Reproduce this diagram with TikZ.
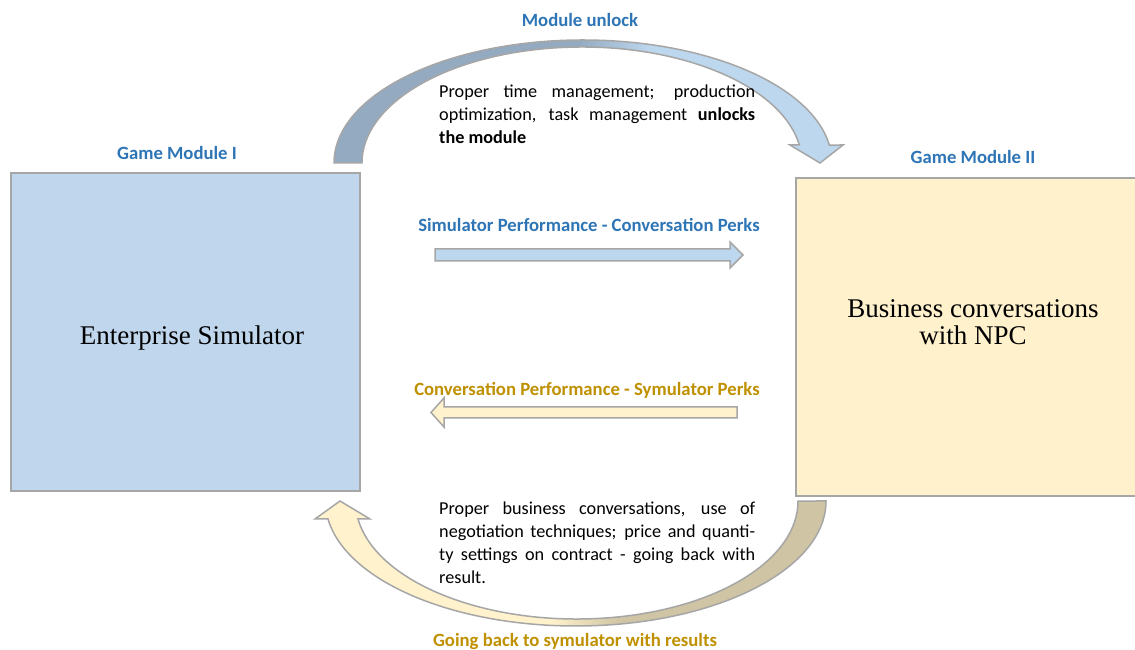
\documentclass[tikz,border=0pt]{standalone}
\usepackage{fontspec}
\setmainfont{Liberation Serif}
\newfontfamily\cali{Carlito}
\definecolor{boxblue}{HTML}{BFD6EC}
\definecolor{boxyel}{HTML}{FFF1CC}
\definecolor{edgegray}{HTML}{A6A6A6}
\definecolor{lblblue}{HTML}{2E75B6}
\definecolor{lblgold}{HTML}{BF9000}
\definecolor{topdk}{HTML}{94AAC0}
\definecolor{toplt}{HTML}{BDD7EE}
\definecolor{botdk}{HTML}{CFC4A3}
\definecolor{botlt}{HTML}{FFF2CC}
\pgfdeclarehorizontalshading{topsh}{100bp}{color(0bp)=(topdk); color(49bp)=(topdk); color(56bp)=(toplt); color(100bp)=(toplt)}
\pgfdeclarehorizontalshading{botsh}{100bp}{color(0bp)=(botlt); color(48bp)=(botlt); color(55bp)=(botdk); color(100bp)=(botdk)}
\begin{document}
\begin{tikzpicture}[x=1pt,y=1pt,
  modbox/.style={draw=edgegray, line width=2pt, inner sep=0pt},
  blockedge/.style={draw=edgegray, line width=1.5pt, line join=miter},
  lbl/.style={font=\cali\bfseries\fontsize{18.7}{22}\selectfont, inner sep=0pt},
  para/.style={font=\cali\fontsize{18.2}{22.8}\selectfont, inner sep=0pt, anchor=base west},
  boxtext/.style={font=\fontsize{27}{27}\selectfont, align=center, inner sep=0pt}]
\useasboundingbox (0,0) rectangle (1135,650);
\clip (0,0) rectangle (1135,650);
\fill[white] (0,0) rectangle (1135,650);

% module boxes
\node[modbox, fill=boxblue, minimum width=349pt, minimum height=318pt] (sim) at (185.5,318) {};
\node[boxtext] (simt) at (192,312) {Enterprise Simulator};
\node[modbox, fill=boxyel, minimum width=360pt, minimum height=318pt] (npc) at (976,313) {};
\node[boxtext] (npct) at (973,328) {Business conversations\\with NPC};

% top curved arrow
\path[blockedge, shading=topsh]
  (334,487) arc[start angle=180, end angle=8.4, x radius=249pt, y radius=123pt]
  -- (843,505) -- (820,487) -- (790,505) -- (799.3,505)
  arc[start angle=8.93, end angle=180, x radius=220pt, y radius=116pt] -- cycle;

% bottom curved arrow
\path[blockedge, shading=botsh]
  (826,149) arc[start angle=360, end angle=188.28, x radius=250.3pt, y radius=125pt]
  -- (315,131) -- (340,149) -- (370,131) -- (358,131)
  arc[start angle=188.77, end angle=360, x radius=221.3pt, y radius=118pt] -- cycle;

% straight arrows
\path[blockedge, fill=toplt] (435,389) -- (730,389) -- (730,382) -- (743,395) -- (730,408) -- (730,401) -- (435,401) -- cycle;
\path[blockedge, fill=botlt] (737,232) -- (444,232) -- (444,223) -- (431,237.5) -- (444,252) -- (444,243) -- (737,243) -- cycle;

% labels
\node[lbl, text=lblblue] (lunlock) at (580,630) {Module unlock};
\node[lbl, text=lblblue] (lgm1) at (177,497) {Game Module I};
\node[lbl, text=lblblue] (lgm2) at (973,493) {Game Module II};
\node[lbl, text=lblblue] (lsim) at (589,425) {Simulator Performance - Conversation Perks};
\node[lbl, text=lblgold] (lconv) at (587,259.5) {Conversation Performance - Symulator Perks};
\node[lbl, text=lblgold] (lback) at (575,8.5) {Going back to symulator with results};

% paragraphs
\node[para] (ptop) at (439,552) {\parbox[t]{316pt}{\makebox[316pt][s]{Proper time management; production}\\
\makebox[316pt][s]{optimization, task management \textbf{unlocks}}\\
\textbf{the module}}};
\node[para] (pbot) at (439,135) {\parbox[t]{316pt}{\makebox[316pt][s]{Proper business conversations, use of}\\
\makebox[316pt][s]{negotiation techniques; price and quanti-}\\
\makebox[316pt][s]{ty settings on contract - going back with}\\
result.}};
\end{tikzpicture}
\end{document}
